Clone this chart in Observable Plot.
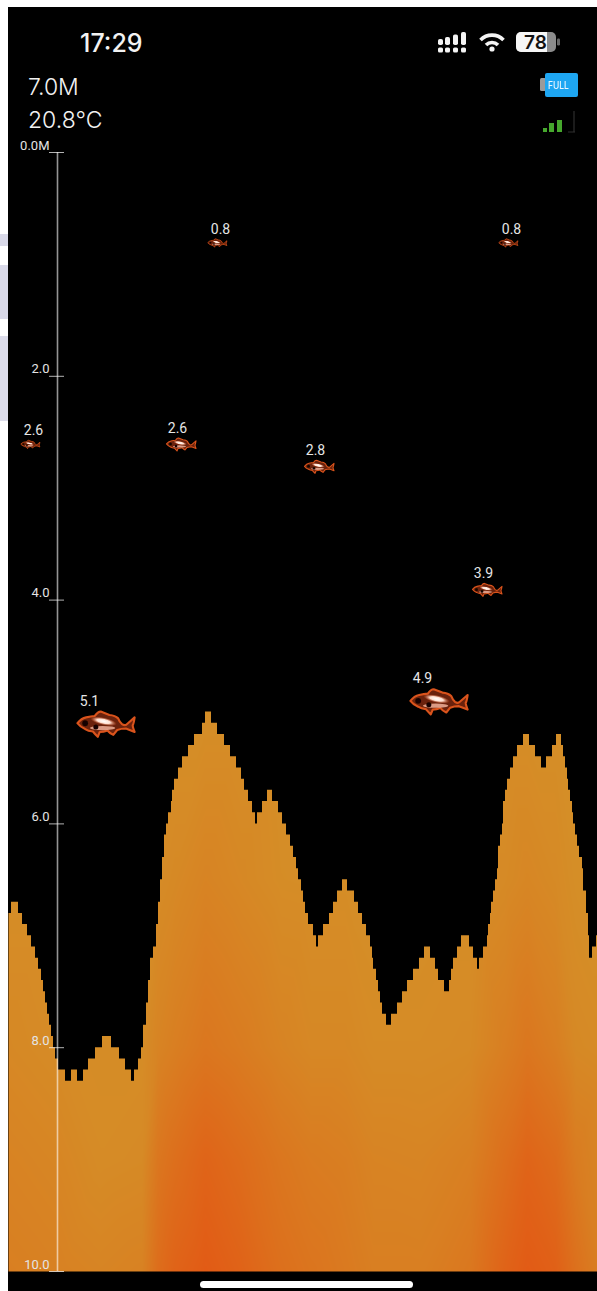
<!DOCTYPE html>
<html>
<head>
<meta charset="utf-8">
<script src="https://cdn.jsdelivr.net/npm/d3@7"></script>
<script src="https://cdn.jsdelivr.net/npm/@observablehq/plot@0.6"></script>
<style>
html,body{margin:0;padding:0;background:#fff;width:597px;height:1291px;overflow:hidden}
.abs{position:absolute}
#chart{position:absolute;left:0;top:0}
#chart svg{background:transparent;display:block}
.ui{position:absolute;color:#f2f2f2;font-family:Inter,Roboto,sans-serif;white-space:nowrap;line-height:1}
</style>
</head>
<body>
<div class="abs" style="left:0;top:234px;width:8px;height:12px;background:#d9d9e8"></div>
<div class="abs" style="left:0;top:265px;width:8px;height:54px;background:#d9d9e8"></div>
<div class="abs" style="left:0;top:336px;width:8px;height:85px;background:#dcdcea"></div>
<div class="abs" style="left:8px;top:7px;width:589px;height:1284px;background:#000"></div>
<div id="chart"></div>

<div class="ui" style="left:80px;top:31px;font-size:25px;font-weight:500">17:29</div>
<div class="ui" style="left:28px;top:76px;font-size:23px;font-weight:300">7.0M</div>
<div class="ui" style="left:28px;top:109px;font-size:23px;font-weight:300">20.8°C</div>

<svg class="abs" style="left:436px;top:30px" width="128" height="26" viewBox="0 0 128 26">
  <g fill="#f4f4f4">
    <rect x="2" y="17.5" width="5" height="5" rx="1.6"/><rect x="9" y="17.5" width="5" height="5" rx="1.6"/><rect x="17" y="17.5" width="5" height="5" rx="1.6"/><rect x="25" y="17.5" width="5" height="5" rx="1.6"/>
    <rect x="2" y="9" width="5" height="6" rx="1.8"/><rect x="9" y="7" width="5" height="8" rx="1.8"/>
    <rect x="17" y="4.5" width="5" height="10.5" rx="1.8"/><rect x="25" y="2" width="5" height="13" rx="1.8"/>
  </g>
  <g fill="none" stroke="#f4f4f4" stroke-width="3.6">
    <path d="M44.5 10a16 16 0 0 1 23 0"/><path d="M50 15a8.5 8.5 0 0 1 12 0"/>
  </g>
  <circle cx="56" cy="19" r="2.6" fill="#f4f4f4"/>
  <rect x="80" y="2" width="40" height="20" rx="5" fill="#8b8b8b"/>
  <path d="M85 2h26v20H85a5 5 0 0 1-5-5V7a5 5 0 0 1 5-5z" fill="#f6f6f6"/>
  <rect x="121" y="8.5" width="3" height="7" rx="1.2" fill="#666"/>
</svg>
<div class="ui" style="left:524px;top:33px;font-size:19px;font-weight:600;color:#111">78</div>

<svg class="abs" style="left:538px;top:71px" width="42" height="28" viewBox="0 0 42 28">
  <rect x="2" y="7" width="6" height="13" rx="1.5" fill="#9a9a9a"/>
  <rect x="7" y="2" width="33" height="24" rx="2" fill="#1ea6f2"/>
</svg>
<div class="ui" style="left:548px;top:80px;font-size:10px;font-weight:500;color:#eaf6ff;transform:scaleX(.85);transform-origin:left">FULL</div>

<svg class="abs" style="left:540px;top:108px" width="38" height="26" viewBox="0 0 38 26">
  <g fill="#46a82d">
    <rect x="3" y="20" width="4" height="4"/><rect x="9" y="15" width="5" height="9"/><rect x="17" y="12" width="5" height="12"/>
  </g>
  <path d="M34 3v21M28 24h7" fill="none" stroke="#2e2e2e" stroke-width="1.2"/>
</svg>

<div class="abs" style="left:200px;top:1281px;width:213px;height:7px;border-radius:4px;background:#fff"></div>

<script>
// Axis
const depthTicks = [0, 2, 4, 6, 8, 10];
const tickLabels = ["0.0M", "2.0", "4.0", "6.0", "8.0", "10.0"];

// Bottom profile: run-length steps (ping position where the reading changes, depth in metres)
const profilePing = [8,11,18,22,27,31,35,38,41,43,45,47,49,51,53,55,58,65,71,77,83,88,95,102,111,119,125,131,134,138,141,143,146,148,150,153,156,158,160,162,164,166,168,171,172,174,178,182,188,194,202,205,211,217,224,230,236,241,244,248,252,255,257,262,267,272,278,282,286,290,293,296,298,301,303,305,308,313,316,318,323,329,333,337,342,347,354,358,362,366,370,372,373,376,378,380,382,386,391,397,402,407,413,419,424,430,435,438,444,449,451,453,457,461,469,473,477,479,483,487,488,490,491,493,495,497,498,500,502,503,505,507,510,513,517,523,529,535,541,546,552,556,561,563,565,567,568,570,572,573,575,577,579,582,583,586,588,589,592,596,597];
const profileDepth = [6.8,6.7,6.8,6.9,7.0,7.1,7.2,7.3,7.4,7.5,7.6,7.7,7.8,7.9,8.0,8.1,8.2,8.3,8.2,8.3,8.2,8.1,8.0,7.9,8.0,8.1,8.2,8.3,8.2,8.1,8.0,7.8,7.6,7.4,7.2,7.1,6.9,6.7,6.5,6.3,6.1,6.0,5.9,5.8,5.7,5.6,5.5,5.4,5.3,5.2,5.1,5.0,5.1,5.2,5.3,5.4,5.5,5.6,5.7,5.8,5.9,6.0,5.9,5.8,5.7,5.8,5.9,6.0,6.1,6.2,6.3,6.4,6.5,6.6,6.7,6.8,6.9,7.0,7.1,7.0,6.9,6.8,6.7,6.6,6.5,6.6,6.7,6.8,6.9,7.0,7.1,7.2,7.3,7.4,7.5,7.6,7.7,7.8,7.7,7.6,7.5,7.4,7.3,7.2,7.1,7.2,7.3,7.4,7.5,7.4,7.3,7.2,7.1,7.0,7.1,7.2,7.3,7.2,7.1,7.0,6.9,6.8,6.7,6.6,6.5,6.4,6.2,6.1,6.0,5.8,5.7,5.6,5.5,5.4,5.3,5.2,5.3,5.4,5.5,5.4,5.3,5.2,5.3,5.4,5.5,5.6,5.7,5.8,5.9,6.0,6.1,6.2,6.3,6.4,6.6,6.8,7.0,7.2,7.1,7.0,7.0];

// Echo strength sampled on a coarse grid (rows: depth, columns: ping)
const heatPings  = [0,60,100,142,158,175,205,240,280,310,345,373,420,470,505,527,555,575,605];
const heatDepths = [5, 6.5, 8, 9, 10.1];
const heatRow5  = [0,0,0,0,0,0,0,0,0,0,0,0,0,0,0,0,0,0,0];
const heatRow65 = [0,0,0,0,.05,.1,.2,.12,.03,.02,.02,0,0,0,.08,.15,.08,0,0];
const heatRow8  = [.12,.05,.03,.03,.2,.3,.45,.35,.2,.12,.12,.05,.05,.08,.3,.45,.3,.1,.05];
const heatRow9  = [.22,.15,.05,.08,.45,.6,.8,.65,.45,.35,.3,.2,.18,.28,.6,.8,.65,.35,.15];
const heatRow10 = [.3,.25,.2,.25,.65,.85,1,.85,.6,.5,.4,.3,.3,.45,.85,1,.9,.6,.25];
const heatRows = [heatRow5, heatRow65, heatRow8, heatRow9, heatRow10];

// Fish echoes
const fishPing  = [30,181,217,508,319,487,439,106];
const fishDepth = [2.6,2.6,0.8,0.8,2.8,3.9,4.9,5.1];
const fishClass = ["small","medium","small","small","medium","medium","large","large"];

const profile = profilePing.map((p, i) => ({ping: p, depth: profileDepth[i]}));
const heat = heatDepths.flatMap((d, r) => heatPings.map((p, c) => ({ping: p, depth: d, v: heatRows[r][c]})));
const fish = fishPing.map((p, i) => ({ping: p, depth: fishDepth[i], cls: fishClass[i]}));

const fishSvg = `<svg xmlns="http://www.w3.org/2000/svg" viewBox="-2 -2 66 34">
<defs>
<radialGradient id="h" cx="0.5" cy="0.5" r="0.5"><stop offset="0" stop-color="#fff"/><stop offset="0.5" stop-color="#ffe0d0"/><stop offset="1" stop-color="#e0603a" stop-opacity="0"/></radialGradient>
<filter id="g" x="-20%" y="-20%" width="140%" height="140%"><feGaussianBlur stdDeviation="0.55"/></filter>
</defs>
<g filter="url(#g)">
<path d="M1 14Q5 9 10 8Q15 7 19 6.5Q22 2 25 2L34 5.5Q40 6 43 9Q44.5 13 47 15Q50 17 52 15L60 8Q59 15 58 16Q58 18 60 23L51 19.5Q46 19.5 42 21L38 26Q34 24 32 21.5Q28 23 24 23L22 28Q19 25 17 22.5Q12 22 9 20Q4 18 1 14Z" fill="#6a2008" stroke="#d9531c" stroke-width="2.2" stroke-linejoin="round"/>
<ellipse cx="28" cy="12" rx="14" ry="4" transform="rotate(12 28 12)" fill="url(#h)"/>
<ellipse cx="27" cy="19" rx="13" ry="2.2" fill="#eeb09a" opacity="0.85"/>
<circle cx="9" cy="14" r="3" fill="#180602"/>
<circle cx="20" cy="18" r="2.6" fill="#180602"/>
</g>
</svg>`;
const fishSrc = "data:image/svg+xml," + encodeURIComponent(fishSvg);

const labelFont = "Roboto, Inter, sans-serif";
const sizes = {
  small:  {w: 22, h: 11, dx: 3,   dy: -13},
  medium: {w: 34, h: 17, dx: -4,  dy: -15},
  large:  {w: 64, h: 33, dx: -17, dy: -22}
};
const fishMarks = Object.entries(sizes).flatMap(([cls, s]) => {
  const rows = fish.filter(f => f.cls === cls);
  return [
    Plot.image(rows, {x: "ping", y: "depth", src: () => fishSrc, width: s.w, height: s.h, dy: 1}),
    Plot.text(rows, {x: "ping", y: "depth", text: d => d.depth.toFixed(1), dx: s.dx, dy: s.dy,
      fill: "#e6e6e6", fontSize: 14, fontFamily: labelFont})
  ];
});

const chart = Plot.plot({
  width: 597, height: 1291,
  marginLeft: 8, marginRight: 0, marginTop: 152, marginBottom: 20,
  style: {background: "transparent"},
  x: {domain: [8, 597], range: [8, 597], axis: null},
  y: {domain: [0, 10], range: [152, 1271], axis: null},
  color: {type: "linear", domain: [0, 1], range: ["#d58e27", "#e25a15"], legend: false},
  marks: [
    Plot.raster(heat, {x: "ping", y: "depth", fill: "v", interpolate: "barycentric", pixelSize: 1}),
    Plot.area(profile, {x1: "ping", y1: () => 0, y2: "depth", curve: "step-after", fill: "#000"}),
    Plot.ruleX([57], {y1: 0, y2: 10, stroke: "#fff", strokeOpacity: 0.58, strokeWidth: 1.6}),
    Plot.ruleY(depthTicks, {x1: 49, x2: 64, stroke: "#fff", strokeOpacity: 0.7, strokeWidth: 1}),
    Plot.text(depthTicks, {x: 49, y: d => d, text: (d, i) => tickLabels[i], textAnchor: "end", dy: -7,
      fill: "#e4e4e4", fontSize: 13, fontFamily: labelFont}),
    ...fishMarks
  ]
});
document.getElementById("chart").append(chart);
</script>
</body>
</html>
